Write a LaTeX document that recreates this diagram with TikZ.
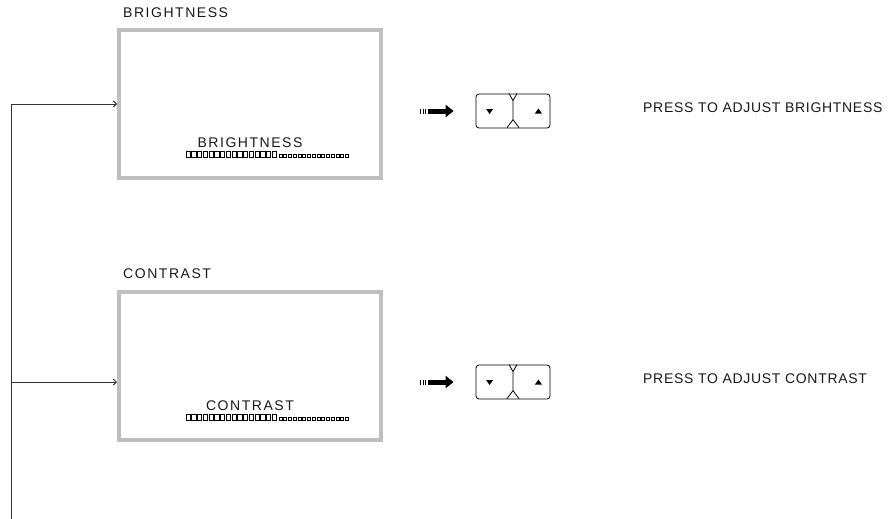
\documentclass[tikz,border=0pt]{standalone}
\usepackage{fontspec}
\setmainfont{Liberation Sans}
\newfontfamily\lcdfont{Liberation Sans}[LetterSpace=11]
\newfontfamily\notefont{Liberation Sans}[LetterSpace=5]
\usetikzlibrary{arrows.meta}

\begin{document}
\begin{tikzpicture}[x=1pt, y=-1pt,
  screen/.style={draw=black!25, line width=4pt, minimum width=262pt, minimum height=148pt, inner sep=0pt},
  lcd/.style={font=\lcdfont\fontsize{14}{14}\selectfont, text=black!90, inner sep=0pt},
  note/.style={font=\notefont\fontsize{14}{14}\selectfont, text=black!90, inner sep=0pt, anchor=base west},
  key/.style={draw, line width=0.8pt, rounded corners=3pt, minimum width=74pt, minimum height=34pt, inner sep=0pt},
  wire/.style={draw=black!80, line width=1pt},
  fat/.style={line width=5pt, dash pattern=on 1pt off 1.6pt on 1pt off 1.6pt on 1pt off 1.6pt on 40pt, -{Triangle[length=8pt,width=12pt]}, shorten >=22pt}]
\useasboundingbox (0,0) rectangle (889,519);

% brightness screen
\node[lcd, anchor=base west] (h1) at (123,18) {BRIGHTNESS};
\node[screen] (s1) at (250,104) {};
\node[lcd, anchor=base] (l1) at (250,147) {BRIGHTNESS};
\foreach \i in {0,...,15} \draw[line width=0.7pt] (186+\i*5.75,151.5) rectangle ++(4.3,6);
\foreach \i in {0,...,14} \draw[line width=0.6pt] (279+\i*4.75,154.5) rectangle ++(3,3);

% contrast screen
\node[lcd, anchor=base west] (h2) at (123,278) {CONTRAST};
\node[screen] (s2) at (250,366) {};
\node[lcd, anchor=base] (l2) at (250,410) {CONTRAST};
\foreach \i in {0,...,15} \draw[line width=0.7pt] (186+\i*5.75,414.5) rectangle ++(4.3,6);
\foreach \i in {0,...,14} \draw[line width=0.6pt] (279+\i*4.75,417.5) rectangle ++(3,3);

% feed line
\coordinate (j1) at (11,104);
\coordinate (j2) at (11,382);
\coordinate (bot) at (11,519);
\draw[wire, -{Straight Barb[length=3pt,width=6pt]}] (bot) -- (j1) -- (s1.west);
\draw[wire, -{Straight Barb[length=3pt,width=6pt]}] (j2) -- (j2 -| s2.west);

% keys
\node[key] (b1) at (513,111) {};
\node[key] (b2) at (513,382) {};
\coordinate (a1) at (420,111);
\coordinate (a2) at (420,382);
\draw[fat] (a1) -- (b1);
\draw[fat] (a2) -- (b2);
\draw[line width=0.8pt] ([xshift=-4pt]b1.north) -- ++(4,7) -- ++(4,-7) ++(-4,7) -- ++(0,19) -- ++(-6,8) ++(6,-8) -- ++(6,8);
\draw[line width=0.8pt] ([xshift=-4pt]b2.north) -- ++(4,7) -- ++(4,-7) ++(-4,7) -- ++(0,19) -- ++(-6,8) ++(6,-8) -- ++(6,8);
\fill ([xshift=14pt]b1.west) ++(-3.5,-2) -- ++(7,0) -- ++(-3.5,5) -- cycle;
\fill ([xshift=-12pt]b1.east) ++(-3.5,2.5) -- ++(7,0) -- ++(-3.5,-5) -- cycle;
\fill ([xshift=14pt]b2.west) ++(-3.5,-2) -- ++(7,0) -- ++(-3.5,5) -- cycle;
\fill ([xshift=-12pt]b2.east) ++(-3.5,2.5) -- ++(7,0) -- ++(-3.5,-5) -- cycle;

\node[note] (t1) at (643,112) {PRESS TO ADJUST BRIGHTNESS};
\node[note] (t2) at (643,383) {PRESS TO ADJUST CONTRAST};
\end{tikzpicture}
\end{document}
